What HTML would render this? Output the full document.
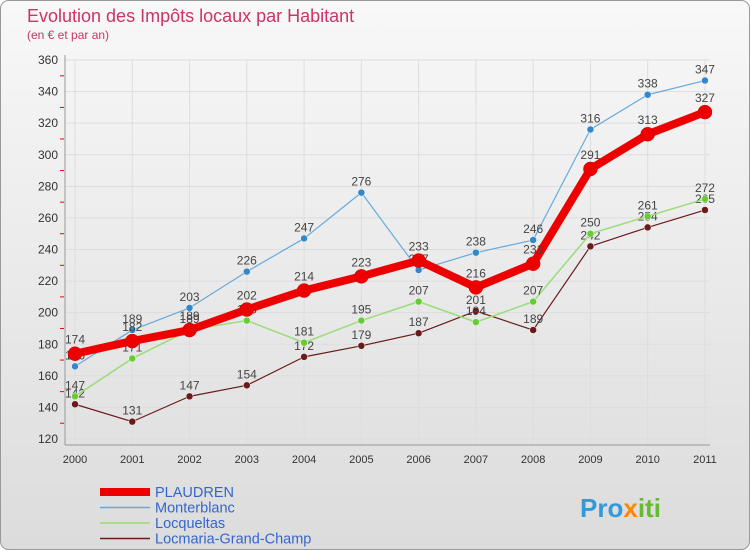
<!DOCTYPE html>
<html><head><meta charset="utf-8"><style>
body{margin:0;width:750px;height:550px;overflow:hidden;font-family:"Liberation Sans",sans-serif}
</style></head><body>
<svg width="750" height="550" style="display:block">
<defs><linearGradient id="bg" x1="0" y1="0" x2="0" y2="1"><stop offset="0" stop-color="#f8f8f8"/><stop offset="1" stop-color="#dcdcdc"/></linearGradient></defs>
<rect x="0.5" y="0.5" width="749" height="549" rx="8" fill="url(#bg)" stroke="#999"/>
<text x="27" y="22" font-size="18" fill="#cc3366">Evolution des Impôts locaux par Habitant</text>
<text x="27" y="39" font-size="12" fill="#cc3366">(en € et par an)</text>
<g id="grid"></g><g id="series"></g><g id="legend"></g>
<text x="580" y="517" font-size="26" font-weight="bold" fill="#3399dd">Pro<tspan fill="#ff8800">x</tspan><tspan fill="#66bb33">iti</tspan></text>
</svg>
<script>
const years=['2000','2001','2002','2003','2004','2005','2006','2007','2008','2009','2010','2011'];
const yTicks=[120,140,160,180,200,220,240,260,280,300,320,340,360];
const plaudren=[174,182,189,202,214,223,233,216,231,291,313,327];
const monterblanc=[166,189,203,226,247,276,227,238,246,316,338,347];
const locqueltas=[147,171,189,195,181,195,207,194,207,250,261,272];
const locmaria=[142,131,147,154,172,179,187,201,189,242,254,265];
const NS='http://www.w3.org/2000/svg';
const X=i=>75+i*57.27, Y=v=>60+(360-v)*379/240;
function mk(t,a,p){const e=document.createElementNS(NS,t);for(const k in a)e.setAttribute(k,a[k]);p.appendChild(e);return e;}
const g=document.getElementById('grid');
yTicks.forEach(v=>{const l=mk('line',{x1:65,x2:710,y1:Y(v),y2:Y(v),stroke:'#ddd'},g);


const t=mk('text',{x:58,y:Y(v)+4,'text-anchor':'end','font-size':12,fill:'#333'},g);t.textContent=v;


if(v>120)mk('line',{x1:60,x2:64,y1:Y(v)+15.8,y2:Y(v)+15.8,stroke:'#e00'},g);});
years.forEach((y,i)=>{mk('line',{x1:X(i),x2:X(i),y1:60,y2:445,stroke:'#ddd'},g);
const t=mk('text',{x:X(i),y:463,'text-anchor':'middle','font-size':11,fill:'#333'},g);t.textContent=y;

});
mk('line',{x1:65,x2:65,y1:55,y2:445,stroke:'#999'},g);
mk('line',{x1:65,x2:710,y1:445,y2:445,stroke:'#999'},g);
const S=document.getElementById('series');
const defs=[['locmaria',locmaria,'#6b1a1a','#6b1a1a',1.2,3.5],['locqueltas',locqueltas,'#99dd77','#66cc33',1.5,3.5],['monterblanc',monterblanc,'#66aadd','#3388cc',1.2,3.5],['plaudren',plaudren,'#ee0000','#ee0000',8,7]];
defs.forEach(([n,d,c,mc,w,r])=>{const gg=mk('g',{},S);


mk('polyline',{points:d.map((v,i)=>X(i)+','+Y(v)).join(' '),fill:'none',stroke:c,'stroke-width':w,'stroke-linejoin':'round'},gg);
d.forEach((v,i)=>{const p=mk('circle',{cx:X(i),cy:Y(v),r:r,fill:mc,stroke:n=='plaudren'?'#c00':'#fff','stroke-width':0.5},gg);


const t=mk('text',{x:X(i),y:Y(v)-(n=='plaudren'?10:7),'text-anchor':'middle','font-size':12,fill:'#444'},gg);t.textContent=v;

});});
const L=document.getElementById('legend');
const names=[['PLAUDREN','#ee0000',8],['Monterblanc','#66aadd',1.5],['Locqueltas','#99dd77',1.5],['Locmaria-Grand-Champ','#6b1a1a',1.5]];
names.forEach(([nm,c,w],i)=>{const y=492+i*15.5;
const gg=mk('g',{},L);


mk('line',{x1:100,x2:150,y1:y,y2:y,stroke:c,'stroke-width':w},gg);
const t=mk('text',{x:155,y:y+5,'font-size':14.5,fill:'#3366cc'},gg);t.textContent=nm;});
</script>
</body></html>
